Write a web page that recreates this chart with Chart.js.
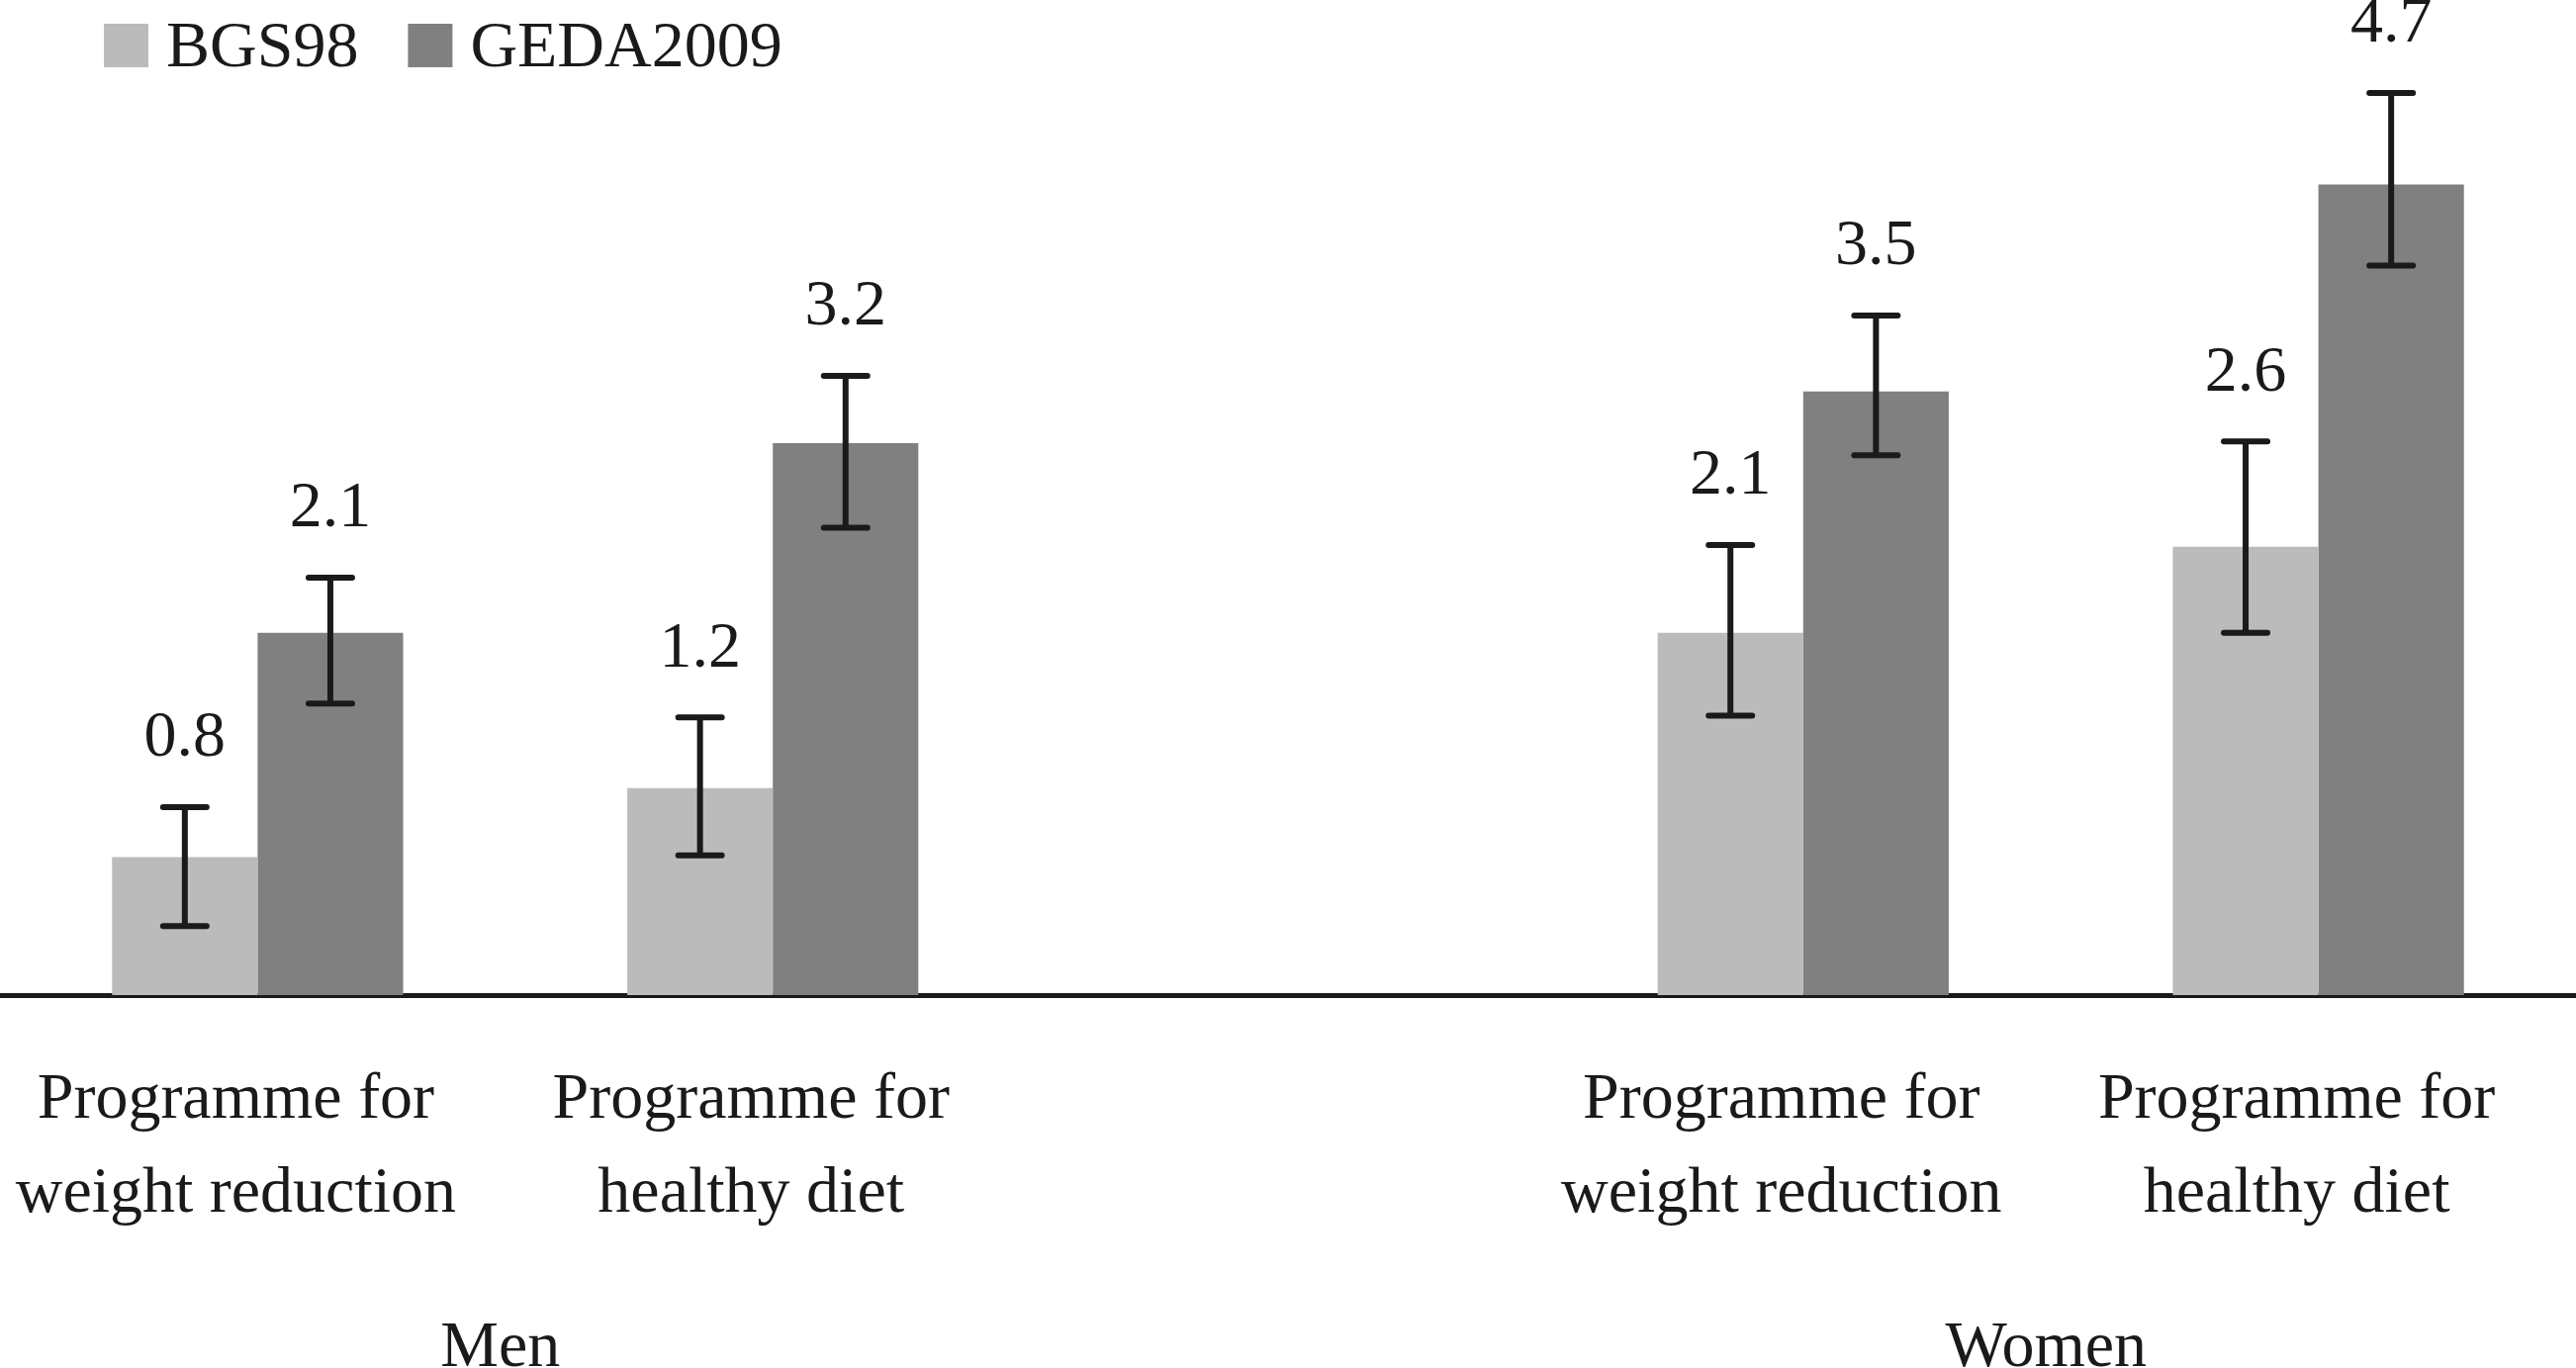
<!DOCTYPE html>
<html>
<head>
<meta charset="utf-8">
<script src="https://cdn.jsdelivr.net/npm/chart.js@4.4.1/dist/chart.umd.min.js"></script>
<style>
  html, body { margin: 0; padding: 0; background: #fff; }
  #wrap { width: 2604px; height: 1383px; }
</style>
</head>
<body>
<div id="wrap"><canvas id="chart"></canvas></div>
<script>
// categories (middle one is an empty spacer between Men and Women)
const categories = [
    ['Programme for', 'weight reduction'],
    ['Programme for', 'healthy diet'],
    '',
    ['Programme for', 'weight reduction'],
    ['Programme for', 'healthy diet']
];
const groupLabels = ['Men', 'Women'];
const groupSpans = [[0, 1], [3, 4]];

const seriesNames = ['BGS98', 'GEDA2009'];
const bgs98 = [0.8, 1.2, null, 2.1, 2.6];
const geda2009 = [2.1, 3.2, null, 3.5, 4.7];
// confidence intervals
const bgs98Lower = [0.40, 0.81, null, 1.62, 2.10];
const bgs98Upper = [1.09, 1.61, null, 2.61, 3.21];
const gedaLower = [1.69, 2.71, null, 3.13, 4.23];
const gedaUpper = [2.42, 3.59, null, 3.94, 5.23];

const FONT = '"Liberation Serif", "Times New Roman", serif';
const INK = '#1a1a1a';

const errorBars = {
    id: 'errorBars',
    afterDatasetsDraw(chart) {
        const ctx = chart.ctx;
        const y = chart.scales.y;
        const bounds = [[bgs98Lower, bgs98Upper], [gedaLower, gedaUpper]];
        ctx.save();
        ctx.strokeStyle = INK;
        ctx.fillStyle = INK;
        ctx.lineWidth = 6;
        ctx.lineCap = 'round';
        chart.data.datasets.forEach((ds, di) => {
            const meta = chart.getDatasetMeta(di);
            meta.data.forEach((bar, i) => {
                if (ds.data[i] == null) return;
                const x = bar.x;
                const top = y.getPixelForValue(bounds[di][1][i]);
                const bot = y.getPixelForValue(bounds[di][0][i]);
                ctx.beginPath();
                ctx.moveTo(x, top);
                ctx.lineTo(x, bot);
                ctx.moveTo(x - 22, top);
                ctx.lineTo(x + 22, top);
                ctx.moveTo(x - 22, bot);
                ctx.lineTo(x + 22, bot);
                ctx.stroke();
                // value label above the error bar
                ctx.font = '66px ' + FONT;
                ctx.textAlign = 'center';
                ctx.textBaseline = 'middle';
                ctx.fillText(ds.data[i].toFixed(1), x, top - 69);
            });
        });
        ctx.restore();
    }
};

const extras = {
    id: 'extras',
    afterDraw(chart) {
        const ctx = chart.ctx;
        const x = chart.scales.x;
        ctx.save();
        ctx.fillStyle = INK;
        ctx.font = '66px ' + FONT;
        // group labels under the category labels
        ctx.textAlign = 'center';
        ctx.textBaseline = 'middle';
        groupLabels.forEach((g, k) => {
            const [a, b] = groupSpans[k];
            const cx = (x.getPixelForValue(a) + x.getPixelForValue(b)) / 2 - 15;
            ctx.fillText(g, cx, 1364);
        });
        // legend
        let lx = 105;
        ctx.textAlign = 'left';
        ctx.textBaseline = 'alphabetic';
        chart.data.datasets.forEach(ds => {
            ctx.fillStyle = ds.backgroundColor;
            ctx.fillRect(lx, 24, 45, 44);
            ctx.fillStyle = INK;
            ctx.fillText(ds.label, lx + 63, 67);
            lx += 63 + ctx.measureText(ds.label).width + 50;
        });
        ctx.restore();
    }
};

new Chart(document.getElementById('chart'), {
    type: 'bar',
    data: {
        labels: categories,
        datasets: [
            { label: seriesNames[0], data: bgs98, backgroundColor: '#bbbbbb', borderWidth: 0 },
            { label: seriesNames[1], data: geda2009, backgroundColor: '#808080', borderWidth: 0 }
        ]
    },
    options: {
        responsive: true,
        maintainAspectRatio: false,
        animation: false,
        layout: { padding: { top: 47, left: 0, right: 0, bottom: 0 } },
        categoryPercentage: 0.565,
        barPercentage: 1.0,
        scales: {
            x: {
                z: 1,
                grid: { display: false, drawTicks: false },
                border: { display: true, color: INK, width: 5 },
                ticks: {
                    color: INK,
                    font: { family: FONT, size: 66, lineHeight: 1.44 },
                    padding: 59,
                    labelOffset: -22,
                    maxRotation: 0,
                    autoSkip: false
                },
                afterFit(scale) {
                    scale.height = 377;
                    scale.paddingLeft = 0;
                    scale.paddingRight = 0;
                }
            },
            y: {
                display: false,
                min: 0,
                max: 5.5
            }
        },
        plugins: {
            legend: { display: false },
            tooltip: { enabled: false }
        }
    },
    plugins: [errorBars, extras]
});
</script>
</body>
</html>
